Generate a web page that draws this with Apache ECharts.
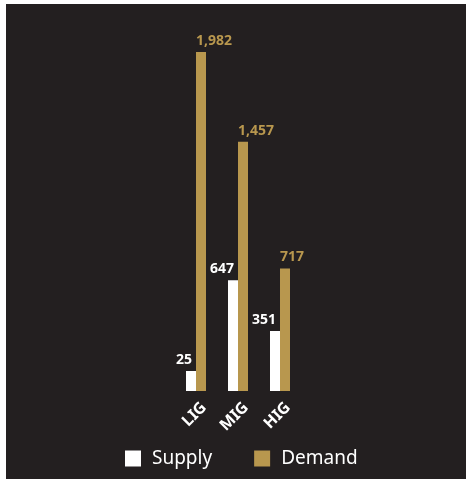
<!DOCTYPE html>
<html>
<head>
<meta charset="utf-8">
<script src="https://cdn.jsdelivr.net/npm/echarts@6/dist/echarts.min.js"></script>
<style>
  html, body { margin: 0; padding: 0; background: #ffffff; }
  #chart { position: absolute; left: 6px; top: 4px; width: 460px; height: 475px; }
</style>
</head>
<body>
<div id="chart"></div>
<script>
// Housing segments and their supply / demand figures
const categories = ['LIG', 'MIG', 'HIG'];
const supply = [25, 647, 351];
const demand = [1982, 1457, 717];

const BG = '#231f20';
const GOLD = '#b8974e';
const WHITE = '#ffffff';

const fmt = v => v.toLocaleString('en-US');

const chart = echarts.init(document.getElementById('chart'));
chart.setOption({
  backgroundColor: BG,
  animation: false,
  textStyle: { fontFamily: 'Noto Sans' },
  grid: [
    { left: 169, top: 45, width: 126, height: 342 },
    // companion grid that carries the slanted category names, nudged right
    { left: 177, top: 45, width: 126, height: 342 }
  ],
  xAxis: [
    {
      type: 'category',
      gridIndex: 0,
      data: categories,
      axisLine: { show: false },
      axisTick: { show: false },
      axisLabel: { show: false }
    },
    {
      type: 'category',
      gridIndex: 1,
      data: categories,
      axisLine: { show: false },
      axisTick: { show: false },
      axisLabel: {
        rotate: 45,
        color: WHITE,
        fontWeight: 'bold',
        fontSize: 16,
        margin: 14
      }
    }
  ],
  yAxis: [
    { type: 'value', gridIndex: 0, min: 0, max: 2000, show: false },
    { type: 'value', gridIndex: 1, min: 0, max: 2000, show: false }
  ],
  legend: {
    bottom: 6,
    left: 114,
    itemWidth: 16,
    itemHeight: 16,
    itemGap: 42,
    icon: 'rect',
    textStyle: { color: WHITE, fontSize: 19, padding: [0, 0, 0, 6] },
    data: ['Supply', 'Demand']
  },
  series: [
    {
      name: 'Supply',
      type: 'bar',
      data: supply,
      barWidth: 10,
      barGap: '0%',
      barMinHeight: 20,
      itemStyle: { color: WHITE },
      label: {
        show: true,
        position: [6, -4],
        align: 'right',
        verticalAlign: 'bottom',
        color: WHITE,
        fontWeight: 'bold',
        fontSize: 14,
        formatter: p => fmt(p.value)
      }
    },
    {
      name: 'Demand',
      type: 'bar',
      data: demand,
      barWidth: 10,
      itemStyle: { color: GOLD },
      label: {
        show: true,
        position: [0, -4],
        align: 'left',
        verticalAlign: 'bottom',
        color: GOLD,
        fontWeight: 'bold',
        fontSize: 14,
        formatter: p => fmt(p.value)
      }
    }
  ]
});
</script>
</body>
</html>
